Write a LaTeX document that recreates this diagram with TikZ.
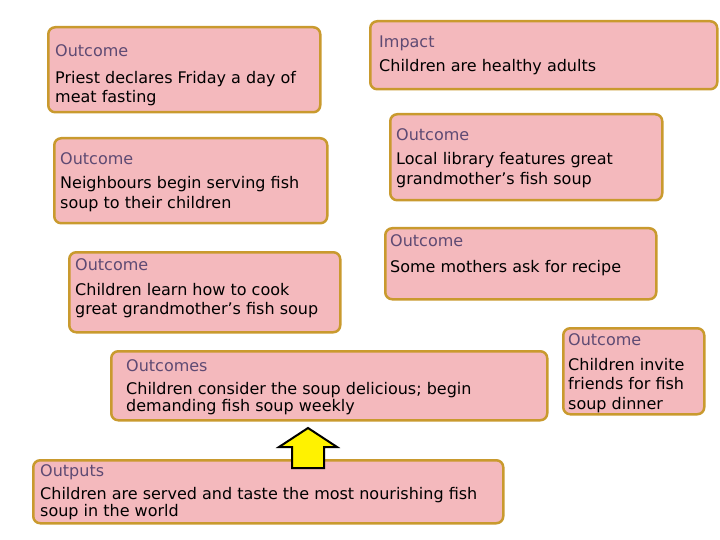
\documentclass[tikz,border=0pt]{standalone}
\usepackage{fontspec}
\setmainfont{DejaVu Sans}
\usepackage{tikz}
\usetikzlibrary{calc}
\usetikzlibrary{positioning}
\definecolor{panelfill}{HTML}{F4B9BD}
\definecolor{panelline}{HTML}{C99A2E}
\definecolor{headtext}{HTML}{5E4A73}
\tikzstyle{panel} = [draw=panelline, fill=panelfill, line width=2.5pt, rounded corners=7pt, anchor=north west, inner sep=0pt]
\tikzstyle{blurb} = [anchor=north west, align=left, inner sep=0pt, font=\fontsize{16}{19.5}\selectfont]
\tikzstyle{tightblurb} = [blurb, font=\fontsize{16}{17}\selectfont]
\tikzstyle{liftarrow} = [draw=black, fill=yellow, line width=2pt, line join=miter]
\newcommand{\boxhead}[1]{{\color{headtext}#1}}

\begin{document}
\begin{tikzpicture}[x=1pt, y=-1pt]
  \useasboundingbox (0,0) rectangle (720,540);

  % results chain, left column
  \node[panel, minimum width=272pt, minimum height=85pt] (priest) at (47,26) {};
  \node[blurb] (priest-t) at (55,44) {\boxhead{Outcome}\\[7.5pt]Priest declares Friday a day of\\meat fasting};

  \node[panel, minimum width=273pt, minimum height=85pt] (neighbours) at (53,137) {};
  \node[blurb, font=\fontsize{16}{20}\selectfont] (neighbours-t) at (60,152) {\boxhead{Outcome}\\[4.5pt]Neighbours begin serving fish\\soup to their children};

  \node[panel, minimum width=271pt, minimum height=80pt] (learn) at (68,251) {};
  \node[blurb, font=\fontsize{16}{19}\selectfont] (learn-t) at (75,258) {\boxhead{Outcome}\\[6.5pt]Children learn how to cook\\great grandmother’s fish soup};

  % right column
  \node[panel, minimum width=347pt, minimum height=68pt] (impact) at (369,20) {};
  \node[blurb] (impact-t) at (379,36) {\boxhead{Impact}\\[4.5pt]Children are healthy adults};

  \node[panel, minimum width=272pt, minimum height=86pt] (library) at (389,113) {};
  \node[blurb, font=\fontsize{16}{20}\selectfont] (library-t) at (396,128) {\boxhead{Outcome}\\[4.5pt]Local library features great\\grandmother’s fish soup};

  \node[panel, minimum width=271pt, minimum height=71pt] (mothers) at (384,227) {};
  \node[blurb] (mothers-t) at (390,234) {\boxhead{Outcome}\\[6.5pt]Some mothers ask for recipe};

  \node[panel, minimum width=141pt, minimum height=86pt] (invite) at (562,327) {};
  \node[blurb] (invite-t) at (568,333) {\boxhead{Outcome}\\[5.5pt]Children invite\\friends for fish\\soup dinner};

  % centre
  \node[panel, minimum width=436pt, minimum height=69pt] (delicious) at (110,350) {};
  \node[tightblurb] (delicious-t) at (126,359) {\boxhead{Outcomes}\\[6.5pt]Children consider the soup delicious; begin\\demanding fish soup weekly};

  \node[panel, minimum width=470pt, minimum height=63pt] (outputs) at (32,459) {};
  \node[tightblurb] (outputs-t) at (40,464) {\boxhead{Outputs}\\[6.5pt]Children are served and taste the most nourishing fish\\soup in the world};

  % block arrow from outputs up to outcomes
  \coordinate (lift) at (308,468);
  \draw[liftarrow] (lift) ++(-16,0) -- ++(0,-21) -- ++(-13,0) -- ++(29,-19)
    -- ++(29,19) -- ++(-13,0) -- ++(0,21) -- cycle;
\end{tikzpicture}
\end{document}
